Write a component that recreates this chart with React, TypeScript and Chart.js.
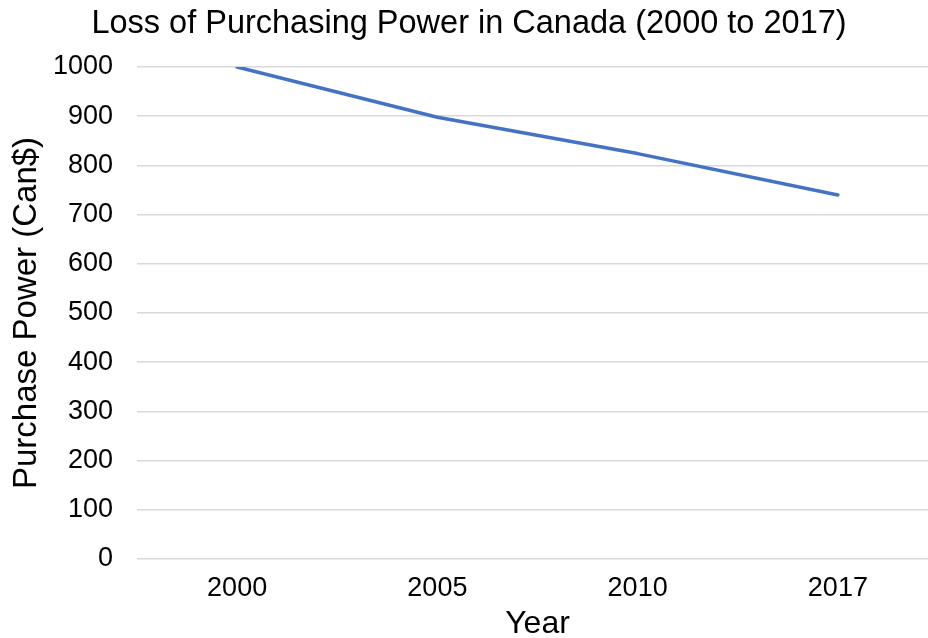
import React, { useEffect, useRef } from "react";
import { Chart, registerables } from "chart.js";

Chart.register(...registerables);

const years: string[] = ["2000", "2005", "2010", "2017"];
const purchasePower: number[] = [1000, 898, 824, 740];
const yTicks: number[] = [0, 100, 200, 300, 400, 500, 600, 700, 800, 900, 1000];

const FONT = "'Liberation Sans', Arial, Helvetica, sans-serif";

export default function App() {
  const canvasRef = useRef<HTMLCanvasElement | null>(null);

  useEffect(() => {
    const canvas = canvasRef.current;
    if (!canvas) return;
    const chart = new Chart(canvas, {
      type: "line",
      data: {
        labels: years,
        datasets: [
          {
            label: "Purchase Power",
            data: purchasePower,
            borderColor: "#4472C4",
            backgroundColor: "#4472C4",
            borderWidth: 3.5,
            borderCapStyle: "round",
            borderJoinStyle: "round",
            pointRadius: 0,
            pointHoverRadius: 0,
            tension: 0,
            fill: false,
          },
        ],
      },
      options: {
        animation: false,
        responsive: true,
        maintainAspectRatio: false,
        layout: { padding: 0 },
        plugins: {
          legend: { display: false },
          tooltip: { enabled: false },
          title: {
            display: true,
            text: "Loss of Purchasing Power in Canada (2000 to 2017)",
            color: "#000000",
            font: { family: FONT, size: 32.5, weight: "normal", lineHeight: 1.2 },
            padding: { top: 5, bottom: 23 },
          },
        },
        scales: {
          x: {
            type: "category",
            offset: true,
            grid: { display: false, drawTicks: false },
            border: { display: false },
            ticks: {
              color: "#000000",
              padding: 13.5,
              maxRotation: 0,
              font: { family: FONT, size: 27, lineHeight: 1.2 },
            },
            title: {
              display: true,
              text: "Year",
              color: "#000000",
              font: { family: FONT, size: 32, lineHeight: 1 },
              padding: { top: 0, bottom: -2 },
            },
            afterFit: (scale: any) => {
              scale.height = 79;
            },
          },
          y: {
            type: "linear",
            min: 0,
            max: 1000,
            afterBuildTicks: (scale: any) => {
              scale.ticks = yTicks.map((v) => ({ value: v }));
            },
            grid: {
              color: "#d9d9d9",
              lineWidth: 1.5,
              drawTicks: false,
            },
            border: { display: false },
            ticks: {
              color: "#000000",
              padding: 24,
              font: { family: FONT, size: 27, lineHeight: 1.2 },
              callback: (value: any) => String(value),
            },
            title: {
              display: true,
              text: "Purchase Power (Can$)",
              color: "#000000",
              font: { family: FONT, size: 33, lineHeight: 1 },
              padding: { top: 10, bottom: 0 },
            },
            afterFit: (scale: any) => {
              scale.width = 137;
            },
          },
        },
      },
    });
    return () => {
      chart.destroy();
    };
  }, []);

  return (
    <div
      style={{
        position: "fixed",
        left: 0,
        top: 0,
        width: 928,
        height: 638,
        overflow: "hidden",
        background: "#ffffff",
      }}
    >
      <div style={{ position: "relative", width: 938, height: 638 }}>
        <canvas ref={canvasRef} />
      </div>
    </div>
  );
}
